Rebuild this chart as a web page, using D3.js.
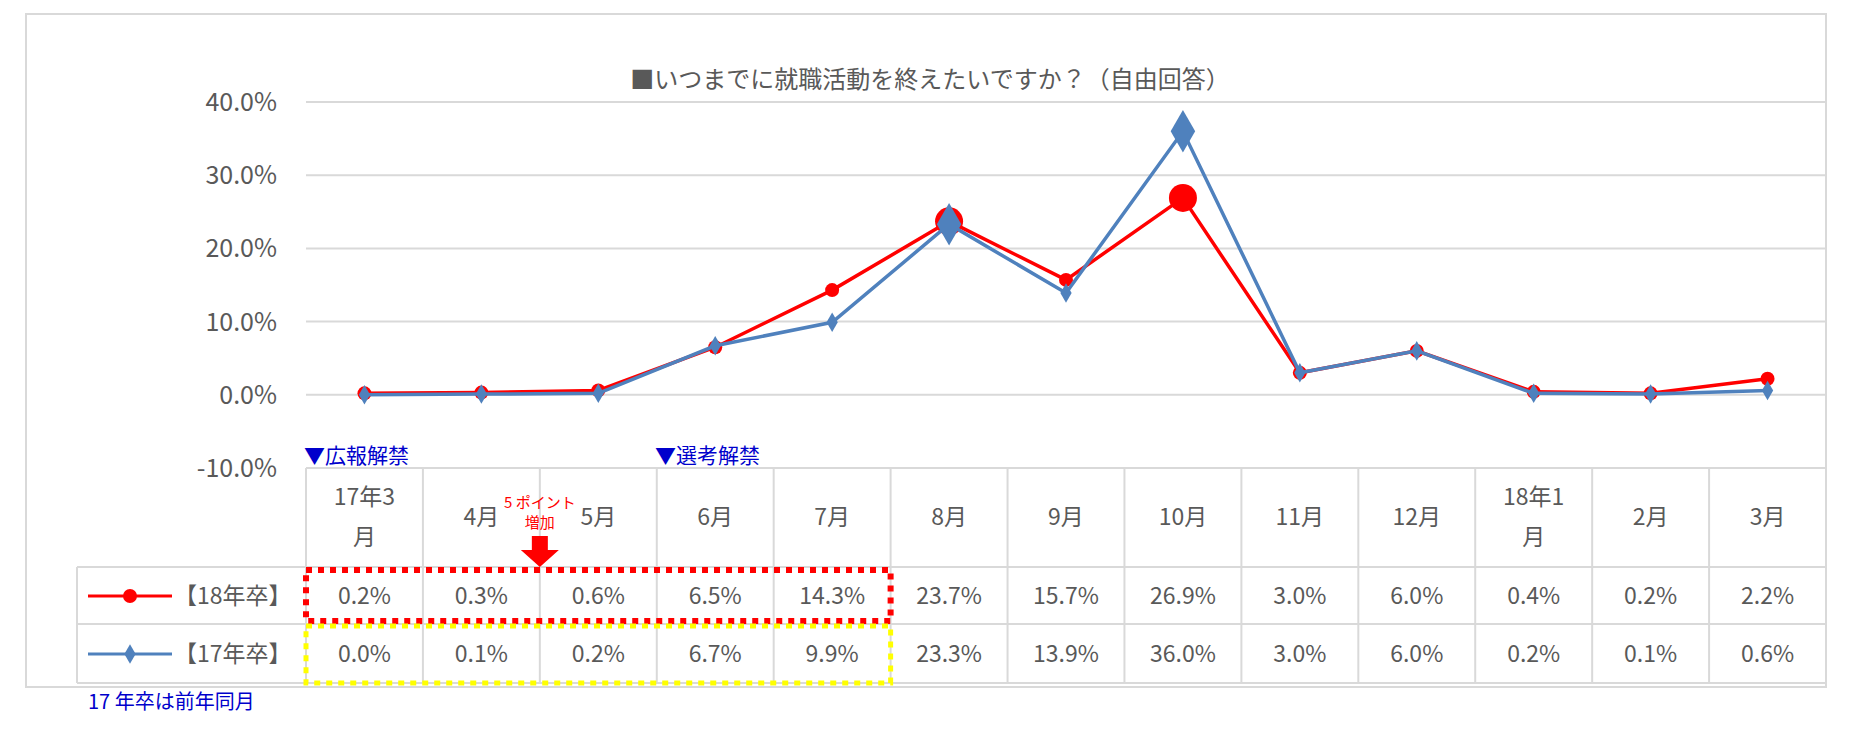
<!DOCTYPE html>
<html><head><meta charset="utf-8">
<script src="https://cdn.jsdelivr.net/npm/d3@7/dist/d3.min.js"></script>
<style>body{margin:0;background:#fff}</style></head>
<body><svg id="c" width="1850" height="741"></svg>
<script>
const months=["17年3\n月","4月","5月","6月","7月","8月","9月","10月","11月","12月","18年1\n月","2月","3月"];
const s18=[0.2,0.3,0.6,6.5,14.3,23.7,15.7,26.9,3.0,6.0,0.4,0.2,2.2];
const s17=[0.0,0.1,0.2,6.7,9.9,23.3,13.9,36.0,3.0,6.0,0.2,0.1,0.6];
const yTicks=[-10,0,10,20,30,40];
const bigIdx=[5,7];
const title="■いつまでに就職活動を終えたいですか？（自由回答）";
const F="'Noto Sans CJK JP','Noto Sans',sans-serif", TC="#595959", GC="#d9d9d9";
const svg=d3.select("#c");
svg.append("rect").attr("x",26).attr("y",14).attr("width",1800).attr("height",673).attr("fill","#fff").attr("stroke",GC).attr("stroke-width",2);
const x0=306,x1=1826;
const x=d3.scaleBand().domain(d3.range(13)).range([x0,x1]);
const y=d3.scaleLinear().domain([-10,40]).range([468,102]);
svg.append("text").attr("x",930).attr("y",88).attr("text-anchor","middle").attr("font-family",F).attr("font-size",24).attr("fill",TC).text(title);
const g=svg.append("g");
yTicks.forEach(t=>{
  g.append("line").attr("x1",x0).attr("x2",x1).attr("y1",y(t)).attr("y2",y(t)).attr("stroke",GC).attr("stroke-width",2);
  g.append("text").attr("x",277).attr("y",y(t)+9).attr("text-anchor","end").attr("font-family",F).attr("font-size",25).attr("fill",TC).text(t.toFixed(1)+"%");
});
// table
const rows=[468,567,624,683];
const tl=77;
[rows[0]].forEach(r=>g.append("line").attr("x1",x0).attr("x2",x1).attr("y1",r).attr("y2",r).attr("stroke",GC).attr("stroke-width",2));
rows.slice(1).forEach(r=>g.append("line").attr("x1",tl).attr("x2",x1).attr("y1",r).attr("y2",r).attr("stroke",GC).attr("stroke-width",2));
g.append("line").attr("x1",tl).attr("x2",tl).attr("y1",567).attr("y2",683).attr("stroke",GC).attr("stroke-width",2);
d3.range(14).forEach(i=>{const xx=i<13?x(i):x1;g.append("line").attr("x1",xx).attr("x2",xx).attr("y1",468).attr("y2",683).attr("stroke",GC).attr("stroke-width",2);});
months.forEach((m,i)=>{
  const cx=x(i)+x.bandwidth()/2, parts=m.split("\n");
  parts.forEach((p,j)=>g.append("text").attr("x",cx).attr("y",parts.length>1?505+j*40:525).attr("text-anchor","middle").attr("font-family",F).attr("font-size",23).attr("fill",TC).text(p));
  g.append("text").attr("x",cx).attr("y",604).attr("text-anchor","middle").attr("font-family",F).attr("font-size",23).attr("fill",TC).text(s18[i].toFixed(1)+"%");
  g.append("text").attr("x",cx).attr("y",662).attr("text-anchor","middle").attr("font-family",F).attr("font-size",23).attr("fill",TC).text(s17[i].toFixed(1)+"%");
});
// legend keys
g.append("line").attr("x1",88).attr("x2",172).attr("y1",596).attr("y2",596).attr("stroke","#ff0000").attr("stroke-width",3);
g.append("circle").attr("cx",130).attr("cy",596).attr("r",7).attr("fill","#ff0000");
g.append("text").attr("x",174).attr("y",604).attr("font-family",F).attr("font-size",23).attr("fill",TC).text("【18年卒】");
g.append("line").attr("x1",88).attr("x2",172).attr("y1",654).attr("y2",654).attr("stroke","#4f81bd").attr("stroke-width",3);
g.append("path").attr("d",d3.symbol(d3.symbolDiamond,110)()).attr("transform","translate(130,654)").attr("fill","#4f81bd");
g.append("text").attr("x",174).attr("y",662).attr("font-family",F).attr("font-size",23).attr("fill",TC).text("【17年卒】");
// lines
const cx=i=>x(i)+x.bandwidth()/2;
const line=d3.line().x((d,i)=>cx(i)).y(d=>y(d));
g.append("path").datum(s18).attr("d",line).attr("fill","none").attr("stroke","#ff0000").attr("stroke-width",3.5);
s18.forEach((v,i)=>g.append("circle").attr("cx",cx(i)).attr("cy",y(v)).attr("r",bigIdx.includes(i)?14:7).attr("fill","#ff0000"));
g.append("path").datum(s17).attr("d",line).attr("fill","none").attr("stroke","#4f81bd").attr("stroke-width",3.5);
s17.forEach((v,i)=>g.append("path").attr("d",d3.symbol(d3.symbolDiamond,bigIdx.includes(i)?520:110)()).attr("transform",`translate(${cx(i)},${y(v)})`).attr("fill","#4f81bd"));
// dotted boxes
g.append("rect").attr("x",x(0)).attr("y",570).attr("width",x(5)-x(0)).attr("height",51).attr("fill","none").attr("stroke","#ff0000").attr("stroke-width",6).attr("stroke-dasharray","6,6");
g.append("rect").attr("x",x(0)).attr("y",626).attr("width",x(5)-x(0)).attr("height",57).attr("fill","none").attr("stroke","#ffff00").attr("stroke-width",5).attr("stroke-dasharray","6,6");
// annotations
const B="#0000cc";
g.append("text").attr("x",304).attr("y",463).attr("font-family",F).attr("font-size",21).attr("fill",B).text("▼広報解禁");
g.append("text").attr("x",655).attr("y",463).attr("font-family",F).attr("font-size",21).attr("fill",B).text("▼選考解禁");
g.append("text").attr("x",88).attr("y",709).attr("font-family",F).attr("font-size",20).attr("fill",B).text("17 年卒は前年同月");
const ax=x(2);
g.append("text").attr("x",ax).attr("y",508).attr("text-anchor","middle").attr("font-family",F).attr("font-size",15).attr("fill","#ff0000").text("5 ポイント");
g.append("text").attr("x",ax).attr("y",528).attr("text-anchor","middle").attr("font-family",F).attr("font-size",15).attr("fill","#ff0000").text("増加");
g.append("path").attr("d",`M${ax-8},${536}h16v14h11l-19,17l-19,-17h11z`).attr("fill","#ff0000");
</script></body></html>
